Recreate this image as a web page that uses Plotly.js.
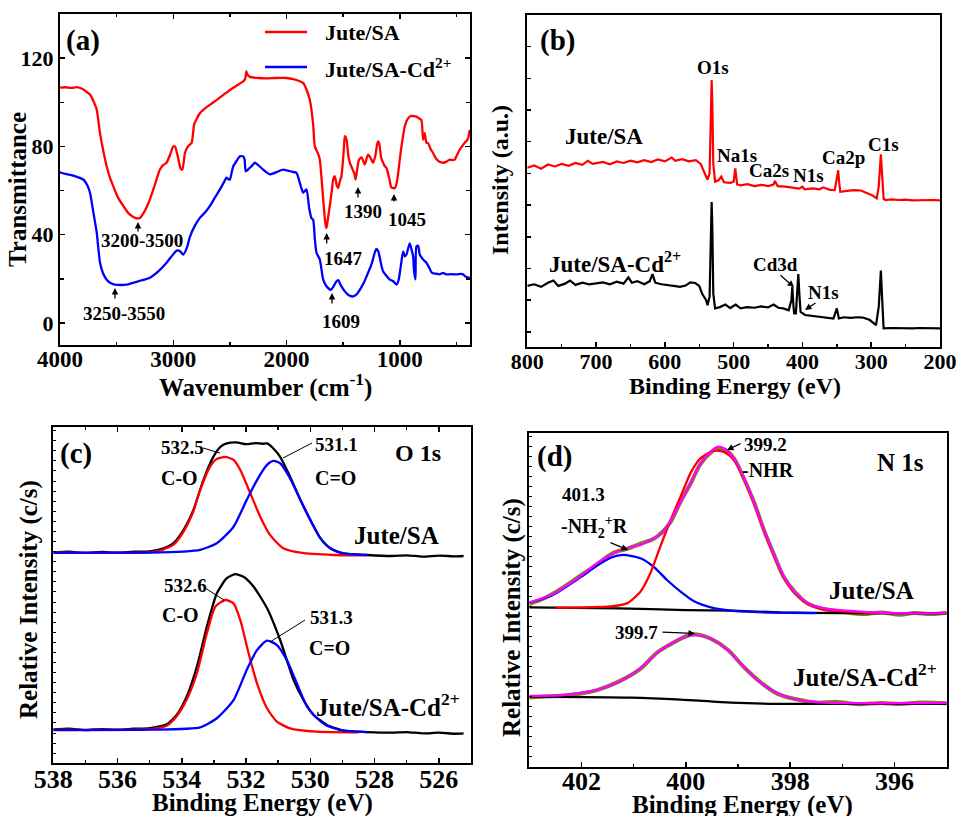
<!DOCTYPE html>
<html><head><meta charset="utf-8">
<script src="https://cdn.plot.ly/plotly-3.0.1.min.js"></script>
<style>html,body{margin:0;padding:0;background:#fff}#g{width:958px;height:816px}</style>
</head><body><div id="g"></div>
<script>
// ---------- tick labels ----------
const aXTicks=[4000,3000,2000,1000], aYTicks=[0,40,80,120];
const bXTicks=[800,700,600,500,400,300,200];
const cXTicks=[538,536,534,532,530,528,526];
const dXTicks=[402,400,398,396];

// ---------- (a) FTIR ----------
const aRedX=[4000,3950,3900,3850,3800,3760,3735,3700,3676,3647,3618,3588,3560,3530,3490,3441,3400,3353,3320,3294,3260,3230,3206,3160,3118,3090,3059,3030,3000,2985,2958,2935,2920,2905,2897,2870,2838,2825,2815,2765,2700,2618,2540,2470,2420,2382,2365,2355,2345,2324,2250,2176,2100,2000,1940,1882,1853,1824,1794,1765,1750,1720,1706,1690,1670,1655,1647,1635,1618,1600,1588,1574,1555,1544,1530,1515,1495,1485,1470,1455,1441,1420,1400,1390,1375,1360,1338,1320,1309,1290,1280,1260,1235,1215,1200,1191,1180,1165,1147,1132,1118,1095,1074,1059,1045,1025,1000,985,956,930,900,882,850,825,809,794,780,765,750,730,706,680,650,618,590,560,540,515,500,470,450,427,410,395,382];
const aRedY=[106.6,106.8,106.5,106.9,106.0,104.5,103.5,100,96.7,86,78,71,66,62,57,53,50,48,47.4,47.6,50,53,56,63,69.5,71.5,72.6,76,80,80,75,70,69.5,74,77,80,81.7,86,90,95,98,101,104,106.6,108.2,109.5,110.5,114,112.5,111.5,111,110.8,111,111,110.5,109.5,108.8,105.8,101,90,80,76.5,74,65,52,44.5,43,47,53,60,65,66.5,62,61.2,64,66.5,78,84.6,83,76,72.6,70,67.5,65,70,74,75,73,71.8,75,76.3,75,72.6,76,81,82.3,81,75,72.6,71,70.3,66,61.3,61.2,61,64,74,80,89,92.5,93.8,93.7,93.4,92.5,92,83,86,81.7,81.5,79,77,74.5,73,72.6,73,74,73.8,74,75.5,78.6,80,81.7,82.5,84,87.5];
const aBlueX=[4000,3950,3900,3850,3794,3760,3735,3705,3676,3660,3647,3620,3588,3550,3515,3460,3412,3300,3206,3130,3059,3010,2970,2940,2912,2880,2853,2810,2765,2720,2676,2630,2588,2550,2530,2510,2500,2485,2470,2440,2412,2382,2370,2360,2340,2324,2300,2280,2250,2206,2170,2147,2080,2030,1950,1912,1880,1853,1824,1800,1780,1765,1750,1735,1706,1676,1647,1609,1585,1560,1544,1520,1485,1450,1412,1380,1353,1320,1294,1250,1220,1206,1190,1176,1160,1147,1120,1088,1060,1029,1010,1000,985,970,956,941,925,912,895,882,875,862,853,838,824,794,765,740,720,706,680,650,618,588,550,500,460,441,420,400,382];
const aBlueY=[68.3,67.5,67,66.2,65,62.5,59,50,41,33,27.4,22.5,19.6,18,17.4,17.2,17.4,19,20.5,23.5,27.3,30.5,32.8,32.5,31,34,39,44,47.6,50,53,57,60.5,64,65.8,65,65,68,71,73.5,75.5,75.5,74,68.7,69.5,70.3,71.5,72.6,71.5,69.5,68,67.3,68.5,69.5,68.5,68,63,59,60.5,52,47.5,46.8,38,31.8,28.7,19.6,16.6,15,16.5,18.8,19.4,17,14.3,12.5,12,13,15,18,21,26.5,32,33.6,32.5,29.5,25.5,23.3,21.5,19.6,19,17.4,19.5,22.6,28,32.4,30.2,31,34,36,33,30.2,24,19.7,34.7,35,31,28.7,27.3,25,23,22.5,22.3,22,22.7,22,22.1,22,22.2,22,21,20.7,20.4];

// ---------- (b) XPS survey ----------
const bRedX=[800,790,780,770,760,750,740,730,720,712,705,700,690,680,670,660,650,640,630,620,610,600,590,585,575,565,555,548,543,538,535,533,532,531,529.6,527,522,518,514,505,500,497.6,495,490,480,470,460,450,442,440,436,425,415,405,400,397,385,375,370,360,353,350,348,346.5,345,335,325,315,305,298,292,289,286,284,282,279,270,260,250,240,230,220,210,200];
const bRedY=[5.18,5.25,5.15,5.28,5.22,5.30,5.24,5.33,5.27,5.40,5.30,5.32,5.36,5.29,5.38,5.33,5.40,5.35,5.42,5.36,5.44,5.38,5.50,5.40,5.45,5.38,5.42,5.30,5.05,4.80,5.0,6.8,7.95,7.2,5.3,4.74,4.78,4.90,4.72,4.70,4.74,5.16,4.65,4.62,4.66,4.60,4.64,4.60,4.65,4.76,4.60,4.58,4.55,4.52,4.58,4.50,4.53,4.50,4.56,4.48,4.47,4.79,5.10,4.7,4.42,4.45,4.47,4.46,4.38,4.30,4.21,4.6,5.6,4.9,4.2,4.16,4.18,4.16,4.17,4.15,4.16,4.15,4.16,4.15];
const bBlkX=[800,790,780,770,762,755,745,738,730,720,710,700,690,680,670,660,653,648,640,630,622,618,614,605,595,585,578,570,563,556,550,546,540,538,535,533,532,531,529.6,527,520,512,505,497,490,480,470,460,450,442,435,428,420,416,414.7,413,412,409.5,407.5,406,404.5,402.7,396,385,375,365,355,350,347,340,330,320,312,302,293,289,286,284,282,270,260,250,240,230,220,210,200];
const bBlkY=[1.45,1.50,1.42,1.55,1.62,1.45,1.52,1.62,1.48,1.55,1.50,1.53,1.56,1.50,1.58,1.52,1.72,1.55,1.60,1.50,1.60,1.82,1.55,1.50,1.46,1.44,1.42,1.46,1.56,1.54,1.45,1.21,1.00,0.84,1.1,3.2,4.1,3.3,1.2,0.74,0.78,0.86,0.75,0.86,0.74,0.78,0.76,0.80,0.77,0.86,0.76,0.74,0.68,1.0,1.42,0.8,0.58,0.58,1.3,1.82,1.2,0.63,0.53,0.50,0.47,0.46,0.42,0.74,0.42,0.46,0.44,0.46,0.45,0.37,0.21,0.8,1.93,1.0,0.11,0.12,0.11,0.12,0.11,0.12,0.11,0.12,0.11];

// ---------- (c) O 1s ----------
const cTopX=[538,537.5,537,536.5,536,535.5,535,534.57,534.26,533.95,533.64,533.33,533.02,532.8,532.6,532.3,532.0,531.7,531.5,531.35,531.15,530.94,530.63,530.31,530.0,529.69,529.38,528.97,528.24,527.5,527,526.5,526,525.5,525.23];
const cTopBlack=[6.28,6.30,6.26,6.29,6.27,6.30,6.31,6.40,6.55,6.94,7.54,8.43,9.12,9.42,9.52,9.55,9.50,9.53,9.51,9.52,9.37,9.12,8.53,7.84,7.24,6.70,6.40,6.25,6.20,6.17,6.19,6.15,6.18,6.16,6.17];
const cTopRedX=[538,535,534.68,534.26,533.95,533.64,533.43,533.12,532.91,532.65,532.39,532.18,531.87,531.56,531.25,530.84,530.31,529.27,528.24];
const cTopRed=[6.27,6.28,6.33,6.51,6.89,7.50,8.13,8.83,9.06,9.12,9.03,8.73,8.04,7.34,6.79,6.40,6.27,6.20,6.19];
const cTopBlueX=[538,535,533.95,533.43,532.91,532.39,531.98,531.66,531.35,531.15,530.94,530.63,530.31,530.0,529.69,529.38,528.97,528.24];
const cTopBlue=[6.26,6.27,6.30,6.35,6.55,7.04,7.84,8.43,8.88,9.0,8.93,8.48,7.84,7.24,6.70,6.40,6.25,6.20];
const cBotX=[538,537.5,537,536.5,536,535.5,534.99,534.47,534.16,533.85,533.53,533.22,532.91,532.6,532.34,532.08,531.77,531.35,530.94,530.52,530.21,529.9,529.48,528.97,528.24,527.5,527,526.5,526,525.5,525.23];
const cBotBlack=[1.01,1.03,0.99,1.02,1.0,1.03,1.05,1.16,1.44,1.98,2.88,4.07,5.06,5.51,5.63,5.55,5.26,4.62,3.67,2.48,1.88,1.44,1.14,0.97,0.93,0.91,0.93,0.89,0.91,0.88,0.89];
const cBotRedX=[538,535,534.47,534.16,533.85,533.53,533.22,532.96,532.65,532.39,532.18,531.92,531.66,531.35,531.04,530.63,529.8,528.5];
const cBotRed=[1.0,1.02,1.12,1.40,1.89,2.68,3.87,4.66,4.86,4.76,4.26,3.27,2.38,1.64,1.24,1.04,0.94,0.92];
const cBotBlueX=[538,535,533.43,532.91,532.39,531.98,531.66,531.35,531.04,530.73,530.42,530.1,529.8,529.48,528.97,528.24];
const cBotBlue=[0.99,1.0,1.07,1.34,1.88,2.78,3.37,3.65,3.52,3.07,2.38,1.68,1.35,1.12,0.97,0.93];

// ---------- (d) N 1s ----------
const dTopFitX=[403,402.54,402.03,401.7,401.38,401.13,400.87,400.62,400.45,400.29,400.1,399.91,399.72,399.52,399.38,399.24,399.08,398.88,398.69,398.5,398.31,398.12,397.92,397.67,397.35,396.9,396.26,395.62,395];
const dTopFit=[4.91,5.17,5.69,6.09,6.39,6.54,6.64,6.84,6.99,7.38,7.93,8.49,9.08,9.43,9.58,9.50,9.23,8.63,7.89,7.09,6.34,5.69,5.24,4.91,4.74,4.67,4.61,4.59,4.60];
const dTopDataX=[403,402.7,402.4,402.03,401.7,401.38,401.13,400.87,400.62,400.45,400.29,400.1,399.91,399.72,399.52,399.38,399.24,399.08,398.88,398.69,398.5,398.31,398.12,397.92,397.67,397.35,397.0,396.6,396.26,395.9,395.62,395.3,395];
const dTopData=[4.87,5.05,5.32,5.71,6.06,6.41,6.52,6.68,6.82,7.03,7.33,7.94,8.47,9.06,9.41,9.54,9.48,9.24,8.60,7.91,7.07,6.35,5.67,5.25,4.89,4.72,4.64,4.57,4.62,4.55,4.60,4.57,4.61];
const dTopRedX=[402.5,401.45,401.13,400.87,400.68,400.49,400.29,400.1,399.91,399.72,399.52,399.37,399.24,399.08,398.88,398.69,398.5,398.31,398.12,397.92,397.67,397.35,396.9,396.3];
const dTopRed=[4.76,4.80,4.89,5.24,5.79,6.59,7.39,8.09,8.79,9.23,9.43,9.46,9.40,9.18,8.60,7.86,7.06,6.31,5.66,5.20,4.88,4.70,4.64,4.60];
const dTopBlueX=[403,402.54,402.03,401.7,401.45,401.2,400.87,400.62,400.36,400.1,399.85,399.52,399.14,398.5,397.5];
const dTopBlue=[4.91,5.15,5.66,6.02,6.25,6.34,6.24,5.99,5.59,5.24,4.96,4.77,4.67,4.62,4.60];
const dTopBaseX=[403,401.3,400,399.1,398.2,397,395];
const dTopBase=[4.77,4.74,4.69,4.67,4.62,4.60,4.59];
const dBotFitX=[403,402.35,401.7,401.26,400.87,400.55,400.23,399.97,399.78,399.52,399.2,398.88,398.56,398.24,397.86,397.35,396.26,395];
const dBotFit=[2.12,2.14,2.30,2.55,2.95,3.40,3.74,3.91,3.94,3.84,3.49,2.99,2.50,2.20,2.00,1.92,1.90,1.91];
const dBotDataX=[403,402.7,402.35,402.0,401.7,401.26,400.87,400.55,400.23,399.97,399.78,399.52,399.2,398.88,398.56,398.24,397.86,397.5,397.1,396.7,396.26,395.9,395.5,395];
const dBotData=[2.07,2.10,2.13,2.19,2.29,2.57,2.93,3.42,3.72,3.92,3.96,3.83,3.51,2.97,2.52,2.18,2.01,1.92,1.94,1.87,1.91,1.88,1.92,1.90];
const dBotBaseX=[403,401.06,400.1,399.14,398.18,395];
const dBotBase=[2.10,2.07,2.01,1.92,1.88,1.88];

const W=958,H=816;
const X=p=>p/W, Y=p=>1-p/H;
const FF="'Liberation Serif','Times New Roman',serif";
const f=(s)=>({family:FF,size:s,color:'#000',weight:700});
const bold=a=>a.map(v=>'<b>'+v+'</b>');

function tr(x,y,color,xa,ya,extra){
  return Object.assign({x:x,y:y,type:'scatter',mode:'lines',xaxis:xa,yaxis:ya,
    line:{color:color,width:2.3,shape:'spline',smoothing:0.6},hoverinfo:'skip',showlegend:false},extra||{});
}
const traces=[
  tr(aRedX,aRedY,'#ff0000','x','y'),
  tr(aBlueX,aBlueY,'#0000ff','x','y'),
  tr(bRedX,bRedY,'#ff0000','x2','y2',{line:{color:'#ff0000',width:2.2}}),
  tr(bBlkX,bBlkY,'#000000','x2','y2',{line:{color:'#000000',width:2.2}}),
  tr(cTopX,cTopBlack,'#000','x3','y3'),
  tr(cTopRedX,cTopRed,'#ff0000','x3','y3'),
  tr(cTopBlueX,cTopBlue,'#0000ff','x3','y3'),
  tr(cBotX,cBotBlack,'#000','x3','y3'),
  tr(cBotRedX,cBotRed,'#ff0000','x3','y3'),
  tr(cBotBlueX,cBotBlue,'#0000ff','x3','y3'),
  tr(dTopDataX,dTopData,'#808020','x4','y4',{line:{color:'#808020',width:4,shape:'spline'}}),
  tr(dBotDataX,dBotData,'#808020','x4','y4',{line:{color:'#808020',width:4,shape:'spline'}}),
  tr(dTopBaseX,dTopBase,'#000','x4','y4'),
  tr(dBotBaseX,dBotBase,'#000','x4','y4'),
  tr(dTopBlueX,dTopBlue,'#0000ff','x4','y4'),
  tr(dTopRedX,dTopRed,'#ff0000','x4','y4'),
  tr(dTopFitX,dTopFit,'#ff00ff','x4','y4'),
  tr(dBotFitX,dBotFit,'#ff00ff','x4','y4')
];

function ax(o){
  return Object.assign({showline:true,linewidth:2,linecolor:'#000',mirror:'ticks',ticks:'inside',
    ticklen:5,tickwidth:1.5,tickcolor:'#000',showgrid:false,zeroline:false,fixedrange:true},o);
}
const layout={
  width:W,height:H,margin:{l:0,r:0,t:0,b:0},paper_bgcolor:'#fff',plot_bgcolor:'#fff',showlegend:false,
  font:{family:FF,color:'#000'},
  xaxis:ax({domain:[X(60),X(470)],range:[4000,380],anchor:'y',tickmode:'array',tickvals:aXTicks,ticktext:bold(aXTicks),
    tickfont:f(23),ticklabelstandoff:-8,minor:{dtick:500,tick0:0,ticklen:3,ticks:'inside',tickcolor:'#000'}}),
  yaxis:ax({domain:[Y(345),Y(14)],range:[-10,140],anchor:'x',tickmode:'array',tickvals:aYTicks,ticktext:bold(aYTicks),
    tickfont:f(22),minor:{dtick:20,tick0:0,ticklen:4,ticks:'inside',tickcolor:'#000'}}),
  xaxis2:ax({domain:[X(527.3),X(940)],range:[800,200],anchor:'y2',tickmode:'array',tickvals:bXTicks,ticktext:bold(bXTicks),
    tickfont:f(22),ticklabelstandoff:-6,mirror:true,minor:{dtick:50,tick0:0,ticklen:3,ticks:'inside',tickcolor:'#000'}}),
  yaxis2:ax({domain:[Y(346.7),Y(15)],range:[-0.47,10],anchor:'x2',tick0:0,dtick:1,showticklabels:false,mirror:true,ticklen:4}),
  xaxis3:ax({domain:[X(53.3),X(471)],range:[538,525],anchor:'y3',tickmode:'array',tickvals:cXTicks,ticktext:bold(cXTicks),
    tickfont:f(26),ticklabelstandoff:-9,minor:{dtick:1,tick0:0,ticklen:3,ticks:'inside',tickcolor:'#000'}}),
  yaxis3:ax({domain:[Y(763.3),Y(427.3)],range:[0,10],anchor:'x3',tick0:0,dtick:0.3,showticklabels:false,mirror:true,ticklen:3,tickwidth:1}),
  xaxis4:ax({domain:[X(529.3),X(946.7)],range:[403,395],anchor:'y4',tickmode:'array',tickvals:dXTicks,ticktext:bold(dXTicks),
    tickfont:f(26),ticklabelstandoff:-10,mirror:true,minor:{dtick:1,tick0:0,ticklen:3,ticks:'inside',tickcolor:'#000'}}),
  yaxis4:ax({domain:[Y(766.7),Y(432.7)],range:[0,10],anchor:'x4',tick0:0,dtick:0.3,showticklabels:false,mirror:true,ticklen:3,tickwidth:1})
};

const anns=[];
function T(text,x,y,size,xa,extra){
  anns.push(Object.assign({text:'<b>'+text+'</b>',x:X(x),y:Y(y),xref:'paper',yref:'paper',showarrow:false,
    xanchor:xa||'center',yanchor:'middle',font:f(size)},extra||{}));
}
function A(x1,y1,x2,y2){ // arrow from (x1,y1) to tip (x2,y2) in px
  anns.push({text:'',x:X(x2),y:Y(y2),xref:'paper',yref:'paper',showarrow:true,ax:x1-x2,ay:y1-y2,
    arrowhead:2,arrowsize:1,arrowwidth:1.3,arrowcolor:'#000',standoff:0,startstandoff:0});
}
// panel letters
T('(a)',83,40,29); T('(b)',557,40,29); T('(c)',76,453,29); T('(d)',554,456,29);
// axis titles
T('Transmittance',17,190,25,'center',{textangle:-90});
T('Wavenumber (cm<sup>-1</sup>)',265,385,25);
T('Intensity (a.u.)',500,180,24,'center',{textangle:-90});
T('Binding Energy (eV)',735,386,24);
T('Relative Intensity (c/s)',29,600,25,'center',{textangle:-90});
T('Binding Energy (eV)',262,803,25);
T('Relative Intensity (c/s)',512,617,25,'center',{textangle:-90});
T('Binding Energy (eV)',742,805,25);
// (a) legend
T('Jute/SA',323,33,22,'left'); T('Jute/SA-Cd<sup>2+</sup>',323,68,22,'left');
// (a) peak labels
T('3200-3500',142,240,19); A(138,233,138,222);
T('3250-3550',124,313,19); A(115,300,115,288);
T('1647',343,258,19); A(326.7,245,326.7,233);
T('1390',363,212,19); A(358,199,358,187);
T('1045',407,220,19); A(394,203,394,194);
T('1609',341,322,19); A(332,305,332,293);
// (b) labels
T('Jute/SA',604,137,23); T('Jute/SA-Cd<sup>2+</sup>',547,262,23,'left');
T('O1s',713,67,19); T('Na1s',737,155,19); T('Ca2s',769,170,19); T('N1s',808,175,19);
T('Ca2p',843,158,19); T('C1s',883,144,19); T('Cd3d',775,265,19); T('N1s',823,292,19);
A(779,274,794,287); A(817,302,805,310);
// (c) labels
T('532.5',182,447,19); T('C-O',179,478,20); T('531.1',336,445,19); T('C=O',335,478,20);
T('O 1s',418,453,24); T('Jute/SA',396,535,25);
T('532.6',185,585,19); T('C-O',180,615,20); T('531.3',331,617,19); T('C=O',329,648,20);
T('Jute/SA-Cd<sup>2+</sup>',388,705,25);
// (d) labels
T('399.2',765,445,19); T('-NHR',768,470,20); T('N 1s',900,462,25);
T('401.3',583,495,19); T('-NH<sub>2</sub><sup>+</sup>R',594,527,20);
T('Jute/SA',871,590,25); T('399.7',636,632,19); T('Jute/SA-Cd<sup>2+</sup>',865,675,25);
A(742,443,727,450); A(609,542,628,550); A(661,632,695,633.5);
layout.annotations=anns;
layout.shapes=[
  {type:'line',xref:'paper',yref:'paper',x0:X(265),x1:X(307),y0:Y(32),y1:Y(32),line:{color:'#ff0000',width:2.5}},
  {type:'line',xref:'paper',yref:'paper',x0:X(265),x1:X(307),y0:Y(67),y1:Y(67),line:{color:'#0000ff',width:2.5}},
  {type:'line',xref:'paper',yref:'paper',x0:X(203),x1:X(220),y0:Y(448),y1:Y(453),line:{color:'#000',width:1}},
  {type:'line',xref:'paper',yref:'paper',x0:X(312),x1:X(283),y0:Y(443),y1:Y(458),line:{color:'#000',width:1}},
  {type:'line',xref:'paper',yref:'paper',x0:X(205),x1:X(224),y0:Y(588),y1:Y(600),line:{color:'#000',width:1}},
  {type:'line',xref:'paper',yref:'paper',x0:X(305),x1:X(270),y0:Y(620),y1:Y(642),line:{color:'#000',width:1}}
];
Plotly.newPlot('g',traces,layout,{staticPlot:true,displayModeBar:false});
</script></body></html>
